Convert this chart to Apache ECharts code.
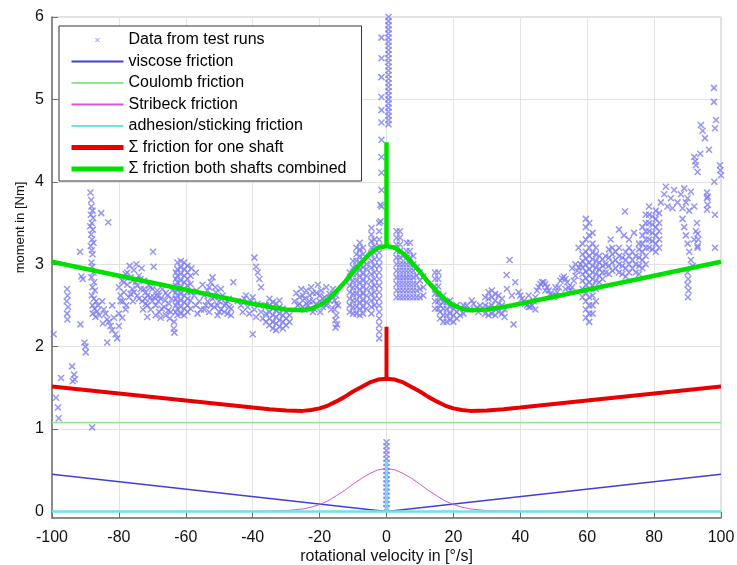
<!DOCTYPE html>
<html>
<head>
<meta charset="utf-8">
<script src="https://cdn.jsdelivr.net/npm/echarts@6/dist/echarts.min.js"></script>
<style>
  html, body { margin: 0; padding: 0; background: #fff; }
  #chart { width: 737px; height: 565px; }
</style>
</head>
<body>
<div id="chart"></div>
<script>
// measured points from the test runs, [velocity, moment]
const testRunsLeft = [
  [-99.5,2.15],[-98.8,1.38],[-98.2,1.26],[-98,1.13],[-97.3,1.62],[-95.5,2.7],[-95.3,2.62],[-95.6,2.55],
  [-95.2,2.48],[-95.5,2.4],[-95.4,2.33],[-94,1.76],[-93.4,1.66],[-93.2,1.6],[-93.8,1.58],[-91.6,3.15],
  [-91.2,2.85],[-90.8,2.82],[-91.5,2.27],[-90.3,2.05],[-90,2.0],[-89.9,1.93],[-88,1.02],
  [-88.5,3.87],[-88.3,3.78],[-88.2,3.7],[-87.9,3.65],[-88.4,3.6],[-87.7,3.56],[-88.1,3.5],[-88.6,3.46],
  [-87.8,3.42],[-88.3,3.36],[-88,3.3],[-87.6,3.26],[-88.4,3.22],[-88.1,3.17],[-87.9,3.12],[-85.3,3.62],
  [-83.2,3.51],[-88.2,3.02],
  [-88,2.97],[-87.6,2.9],[-88.2,2.84],[-87.4,2.78],[-87.9,2.72],[-87.2,2.68],[-88.1,2.62],[-87.5,2.58],
  [-86.8,2.55],[-87.9,2.5],[-87.3,2.46],[-86.5,2.43],[-87.8,2.4],[-87,2.36],[-86.2,2.5],[-85.8,2.38],
  [-85,2.55],[-84.5,2.45],[-84,2.4],[-83.5,2.33],[-83,2.3],[-82.5,2.25],[-82,2.2],[-81,2.15],
  [-80.5,2.1],[-83.5,2.05],[-80,2.25],[-80,2.4],[-82,2.5],[-79,2.35],[-78,2.45],[-81.5,2.35],
  [-84.8,2.28],[-79.5,2.55],
  [-80,2.72],[-79,2.8],[-78.5,2.66],[-78,2.88],[-77.5,2.75],[-77,2.6],[-76.5,2.84],[-76,2.7],
  [-75.5,2.93],[-75,2.78],[-74.5,2.62],[-74,2.86],[-73.5,2.7],[-73,2.55],[-72.5,2.8],[-72,2.66],
  [-71.5,2.5],[-71,2.74],[-70.5,2.6],[-76.8,2.98],[-74.8,3.0],[-73.2,2.95],[-78.8,2.55],[-77.8,2.5],
  [-75.8,2.55],[-72.8,2.45],[-69.8,3.15],[-69.6,2.97],
  [-79.5,2.62],[-78.5,2.78],[-77.5,2.9],[-76.5,2.64],[-75.5,2.66],[-74.5,2.74],[-73.5,2.82],[-72.5,2.7],
  [-71.5,2.62],[-70.5,2.72],[-76,2.8],[-74,2.58],[-72,2.52],[-70,2.55],
  [-70,2.7],[-69.5,2.6],[-69,2.5],[-68.5,2.68],[-68,2.42],[-67.5,2.58],[-67,2.7],[-66.5,2.48],
  [-66,2.38],[-65.5,2.62],[-65,2.52],[-64.5,2.42],[-64,2.68],[-69,2.38],[-70.5,2.45],[-67.5,2.35],
  [-66,2.65],[-68.2,2.55],[-64.8,2.34],[-71.5,2.36],[-72.2,2.58],
  [-68.8,2.62],[-67.2,2.46],[-66.2,2.56],[-65.2,2.44],[-64.2,2.58],[-68,2.62]
]

const testRunsMidLeft = [
  [-63,2.42],[-63,2.5],[-63,2.58],[-63,2.66],[-63,2.74],[-63,2.82],[-63,2.9],
  [-62.5,2.38],[-62.5,2.46],[-62.5,2.54],[-62.5,2.62],[-62.5,2.7],[-62.5,2.78],[-62.5,2.86],[-62.5,2.94],[-62.5,3.02],
  [-61.5,2.4],[-61.5,2.48],[-61.5,2.56],[-61.5,2.64],[-61.5,2.72],[-61.5,2.8],[-61.5,2.88],[-61.5,2.96],[-61.5,3.04],
  [-60.5,2.38],[-60.5,2.46],[-60.5,2.54],[-60.5,2.62],[-60.5,2.7],[-60.5,2.78],[-60.5,2.86],[-60.5,2.94],[-60.5,3.02],
  [-59.5,2.42],[-59.5,2.5],[-59.5,2.58],[-59.5,2.66],[-59.5,2.74],[-59.5,2.82],[-59.5,2.9],[-59.5,2.98],
  [-58.6,2.46],[-58.6,2.56],[-58.6,2.66],[-58.6,2.76],[-58.6,2.86],
  [-63.5,2.3],[-63.6,2.22],[-63.4,2.17],[-58.3,2.95],
  [-57.5,2.62],[-57,2.5],[-56.5,2.4],[-56,2.55],[-55.5,2.45],[-57,2.9],[-56.8,2.68],
  [-55,2.75],[-54.5,2.62],[-54,2.5],[-53.5,2.68],[-53,2.42],[-52.5,2.78],[-52,2.58],[-51.5,2.48],
  [-51,2.66],[-50.5,2.38],[-50,2.55],[-49.5,2.45],[-49,2.62],[-48.5,2.42],[-48,2.52],[-47.5,2.4],
  [-47,2.48],[-46.5,2.38],[-45.8,2.78],[-52,2.84],[-51.2,2.72],[-49.5,2.7],[-47.2,2.58],
  [-54.5,2.45],[-53.5,2.55],[-52.5,2.5],[-51.5,2.6],[-50.5,2.5],[-49.5,2.58],[-48.5,2.5],[-47.5,2.55],
  [-46.5,2.46],[-53,2.72],[-50,2.42],
  [-39.5,3.08],[-39,2.97],[-38.5,2.9],[-38,2.82],[-37.5,2.72],[-40,2.15],
  [-44.5,2.55],[-43.5,2.5],[-42.5,2.58],[-41.5,2.48],[-40.5,2.55],[-39.5,2.45],[-38.5,2.52],[-37.5,2.42],
  [-36.5,2.5],[-43,2.42],[-41,2.4],[-39,2.36],[-37,2.34],[-42,2.62],[-40,2.6],
  [-36,2.3],[-36,2.4],[-36,2.5],[-35,2.26],[-35,2.34],[-35,2.42],[-35,2.5],[-35,2.58],
  [-34,2.22],[-34,2.3],[-34,2.38],[-34,2.46],[-34,2.54],[-33,2.2],[-33,2.28],[-33,2.36],[-33,2.44],[-33,2.52],
  [-32,2.24],[-32,2.32],[-32,2.4],[-32,2.48],[-32,2.56],[-31,2.22],[-31,2.3],[-31,2.38],[-31,2.46],
  [-30,2.26],[-30,2.34],[-30,2.42],[-29,2.3],[-29,2.38],
  [-27.5,2.55],[-27,2.65],[-26.5,2.5],[-26,2.6],[-25.5,2.7],[-25,2.48],[-24.5,2.58],[-24,2.68],
  [-23.5,2.5],[-23,2.62],[-22.5,2.72],[-22,2.55],[-21.5,2.45],[-21,2.65],[-20.5,2.75],[-20,2.55],
  [-19.5,2.68],[-19,2.48],[-18.5,2.6],[-18,2.72],[-17.5,2.52],[-17,2.64],[-16.5,2.45],[-16,2.7],
  [-15.5,2.56],[-15,2.62],[-14.5,2.5],[-24.5,2.45],[-22,2.42],[-19.8,2.42],
  [-26,2.52],[-25,2.62],[-24,2.52],[-23,2.55],[-22,2.65],[-21,2.52],[-20,2.62],[-19,2.58],
  [-18,2.5],[-17,2.56],[-16,2.6],[-15,2.52],
  [-15.5,2.45],[-15,2.38],[-15.3,2.32],[-14.8,2.27],[-15.2,2.23]
]

const testRunsCenter = [
  [-11,2.42],[-11,2.5],[-11,2.58],[-11,2.66],[-11,2.74],[-11,2.82],[-11,2.9],
  [-10,2.4],[-10,2.48],[-10,2.56],[-10,2.64],[-10,2.72],[-10,2.8],[-10,2.88],[-10,2.96],[-10,3.04],
  [-9,2.4],[-9,2.48],[-9,2.56],[-9,2.64],[-9,2.72],[-9,2.8],[-9,2.88],[-9,2.96],[-9,3.04],[-9,3.12],[-9,3.2],
  [-8,2.38],[-8,2.46],[-8,2.54],[-8,2.62],[-8,2.7],[-8,2.78],[-8,2.86],[-8,2.94],[-8,3.02],[-8,3.1],[-8,3.18],[-8,3.26],
  [-7,2.4],[-7,2.48],[-7,2.56],[-7,2.64],[-7,2.72],[-7,2.8],[-7,2.88],[-7,2.96],[-7,3.04],[-7,3.12],[-7,3.2],
  [-6,2.46],[-6,2.54],[-6,2.62],[-6,2.7],[-6,2.78],[-6,2.86],[-6,2.94],[-6,3.0],
  [-4.5,2.4],[-4.5,2.48],[-4.5,2.56],[-4.5,2.64],[-4.5,2.72],[-4.5,2.8],[-4.5,2.88],[-4.5,2.96],
  [-4.5,3.04],[-4.5,3.12],[-4.5,3.2],[-4.5,3.28],[-4.5,3.36],[-4.5,3.44],
  [-3.6,2.5],[-3.6,2.58],[-3.6,2.66],[-3.6,2.74],[-3.6,2.82],[-3.6,2.9],[-3.6,2.98],[-3.6,3.06],[-3.6,3.14],[-3.6,3.22],[-3.6,3.3],
  [-2.2,2.1],[-2.2,2.18],[-2.2,2.26],[-2.2,2.34],[-2.2,2.42],[-2.2,2.5],[-2.2,2.58],[-2.2,2.66],[-2.2,2.74],
  [-2.2,2.82],[-2.2,2.9],[-2.2,2.98],[-2.2,3.06],[-2.2,3.14],[-2.2,3.22],[-2.2,3.3],[-2.2,3.4],[-2.2,3.5],
  [-1.8,3.72],[-1.8,3.52],
  [-1.5,5.75],[-1.5,5.5],[-1.5,5.27],[-1.5,5.03],[-1.5,4.87],[-1.5,4.72],[-1.5,4.51],[-1.5,4.3],
  [-1.5,4.11],[-1.5,3.9],[-1.5,3.7],
  [0.6,4.7],[0.6,4.75],[0.6,4.8],[0.6,4.85],[0.6,4.9],[0.6,4.95],[0.6,5.0],[0.6,5.05],[0.6,5.1],
  [0.6,5.15],[0.6,5.2],[0.6,5.25],[0.6,5.3],[0.6,5.35],[0.6,5.4],[0.6,5.45],[0.6,5.5],[0.6,5.55],
  [0.6,5.6],[0.6,5.65],[0.6,5.7],[0.6,5.75],[0.6,5.8],[0.6,5.85],[0.6,5.9],[0.6,5.95],[0.6,6.0],
  [0,0.04],[0,0.09],[0,0.14],[0,0.19],[0,0.24],[0,0.29],[0,0.34],[0,0.39],[0,0.44],[0,0.49],
  [0,0.54],[0,0.59],[0,0.64],[0,0.69],[0,0.74],[0,0.79],[0,0.84],
  [3,2.6],[3,2.68],[3,2.76],[3,2.84],[3,2.92],[3,3.0],[3,3.08],[3,3.16],[3,3.24],[3,3.32],[3,3.4],
  [4,2.6],[4,2.68],[4,2.76],[4,2.84],[4,2.92],[4,3.0],[4,3.08],[4,3.16],[4,3.24],[4,3.32],[4,3.4],
  [5,2.6],[5,2.68],[5,2.76],[5,2.84],[5,2.92],[5,3.0],[5,3.1],
  [6,2.6],[6,2.68],[6,2.76],[6,2.84],[6,2.92],[6,3.0],[6,3.08],[6,3.16],[6,3.26],
  [7,2.6],[7,2.68],[7,2.76],[7,2.84],[7,2.92],[7,3.0],[7,3.08],[7,3.16],[7,3.26],
  [8,2.6],[8,2.68],[8,2.76],[8,2.84],[8,2.92],[8,3.0],[8,3.1],
  [9,2.6],[9,2.68],[9,2.76],[9,2.86],[9,2.96],[10,2.6],[10,2.7],[10,2.8],[10,2.9],
  [11,2.62],[11,2.72],[11,2.85]
]

const testRunsRight = [
  [14.5,2.46],[14.5,2.55],[14.5,2.64],[14.5,2.73],[14.5,2.82],[14.5,2.9],
  [15.5,2.46],[15.5,2.55],[15.5,2.64],[15.5,2.73],[15.5,2.82],[15.5,2.9],
  [16,2.34],[16,2.42],[16,2.5],[16,2.58],[17,2.3],[17,2.38],[17,2.46],[17,2.54],[17,2.62],
  [18,2.3],[18,2.38],[18,2.46],[18,2.54],[19,2.32],[19,2.4],[19,2.48],[19,2.56],
  [20,2.3],[20,2.38],[20,2.46],[21,2.34],[21,2.42],[21,2.5],[22,2.38],[22,2.46],[23,2.4],[23,2.5],
  [24,2.5],[25,2.45],[26,2.52],[27,2.47],[28,2.5],[25.5,2.56],[27.5,2.42],
  [29.5,2.4],[29.5,2.5],[29.5,2.6],[30.5,2.38],[30.5,2.48],[30.5,2.58],[30.5,2.66],
  [31.5,2.4],[31.5,2.5],[31.5,2.6],[31.5,2.68],[32.5,2.38],[32.5,2.46],[32.5,2.56],[32.5,2.64],
  [33.5,2.42],[33.5,2.52],[33.5,2.62],[34.5,2.4],[34.5,2.5],[34.5,2.58],[35.3,2.36],[35.3,2.45],
  [36.8,3.05],[35.9,2.87],[38,2.27],[36,2.7],[37.5,2.62],[38.5,2.78],[39.5,2.66],
  [40,2.62],[41,2.55],[42,2.5],[43,2.48],[44,2.55],[45,2.68],[46,2.76],[47,2.78],
  [48,2.72],[49,2.64],[50,2.6],[51,2.66],[52,2.8],[53,2.85],[54,2.78],[55,2.68],
  [56,2.8],[57,2.92],[58,3.0],[55.5,2.95],[56.5,3.0],[57.4,3.2],[42.5,2.62],[44.5,2.45],
  [47.5,2.68],[50.5,2.72],[53.5,2.7],
  [40.5,2.58],[41.5,2.52],[42.5,2.48],[43.5,2.5],[44.5,2.6],[45.5,2.72],[46.5,2.78],[47.5,2.76],
  [48.5,2.68],[49.5,2.62],[50.5,2.62],[51.5,2.72],[52.5,2.83],[53.5,2.82],[54.5,2.72],[55.5,2.72],
  [56.5,2.86],[57.5,2.96],
  [58.6,2.6],[58.6,2.7],[58.6,2.8],[58.6,2.88],[58.6,2.96],[58.6,3.04],[58.6,3.12],[58.6,3.25],
  [59.6,2.35],[59.6,2.45],[59.6,2.55],[59.6,2.65],[59.6,2.75],[59.6,2.83],[59.6,2.91],[59.6,2.99],
  [59.6,3.07],[59.6,3.15],[59.6,3.3],[59.6,3.45],[59.6,3.55],
  [60.6,2.3],[60.6,2.4],[60.6,2.5],[60.6,2.6],[60.6,2.7],[60.6,2.78],[60.6,2.86],[60.6,2.94],
  [60.6,3.02],[60.6,3.1],[60.6,3.2],[60.6,3.35],[60.6,3.5],
  [61.6,2.4],[61.6,2.5],[61.6,2.62],[61.6,2.74],[61.6,2.82],[61.6,2.9],[61.6,2.98],[61.6,3.06],
  [61.6,3.14],[61.6,3.25],[61.6,3.38],
  [62.6,2.55],[62.6,2.7],[62.6,2.8],[62.6,2.88],[62.6,2.96],[62.6,3.04],[62.6,3.12],[62.6,3.2],
  [63.6,2.78],[63.6,2.86],[63.6,2.94],[63.6,3.02],[63.6,3.1],[64.6,2.82],[64.6,2.9],[64.6,2.98],[64.6,3.06],
  [65.5,2.9],[65.5,3.0],[65.5,3.1],[66.5,2.88],[66.5,2.98],[66.5,3.08],[66.5,3.18],
  [67.5,2.92],[67.5,3.02],[67.5,3.12],[67.5,3.2],[68.5,2.95],[68.5,3.05],[68.5,3.15],
  [69.5,2.9],[69.5,3.0],[69.5,3.1],[69.5,3.2],[70.5,2.88],[70.5,2.98],[70.5,3.08],
  [71.5,2.85],[71.5,2.95],[71.5,3.05],[71.5,3.15],[72.5,2.9],[72.5,3.0],[72.5,3.1],[72.5,3.2],
  [73.5,2.95],[73.5,3.05],[73.5,3.15],[74.5,2.9],[74.5,3.0],[74.5,3.1],
  [75.5,2.88],[75.5,2.98],[75.5,3.08],[75.5,3.18],[76.5,2.95],[76.5,3.05],[76.5,3.15],
  [77.5,3.0],[77.5,3.1],[77.5,3.2],
  [69.5,3.42],[71,3.35],[72.5,3.3],[74,3.38],[75.5,3.25],[71.3,3.64],[67,3.3],
  [76.5,3.25],[76.5,3.35],[76.5,3.45],[77.5,3.3],[77.5,3.4],[77.5,3.5],[77.5,3.6],
  [78.5,3.2],[78.5,3.3],[78.5,3.4],[78.5,3.5],[78.5,3.6],[78.5,3.7],
  [79.5,3.18],[79.5,3.28],[79.5,3.38],[79.5,3.48],[79.5,3.58],
  [80.5,3.15],[80.5,3.25],[80.5,3.35],[80.5,3.45],[80.5,3.55],[80.5,3.65],
  [81.5,3.2],[81.5,3.3],[81.5,3.4],[81.5,3.5],[81.5,3.62],
  [82,3.75],[83,3.85],[84,3.7],[85,3.8],[86,3.9],[87,3.75],[83.5,3.94],[85.5,3.68],
  [88,3.85],[89,3.92],[90,3.8],[91,3.88],[92,3.7],[88.5,3.68],[90.5,3.65],[89.5,3.75],
  [88.5,3.55],[89,3.45],[89.5,3.35],[90,3.25],[90.5,3.15],[91,3.05],[91.5,2.98],[92,3.3],
  [92.5,3.4],[93,3.2],[92.8,3.5],
  [90,2.9],[90.2,2.82],[90,2.75],[90.3,2.68],[90.1,2.6],
  [93,3.22],[93.2,3.3],[93,3.37],[95.8,3.87],[95.8,3.8],[96,3.72],[95.8,3.66],
  [98.2,3.6],[98.2,3.2],[92,4.3],[92.5,4.2],[93,4.12],[92.3,4.25],[94,4.69],[94.5,4.62],
  [95.2,4.53],[96.4,4.39],[93.8,4.34],[97.9,5.14],[97.9,4.97],[98.5,4.75],[98.2,4.65],
  [99.7,4.2],[99.8,4.14],[100,4.08],[98,4.0],[96,3.82]
]

// friction model curves
const curveX = [-100,-80,-60,-40,-35,-30,-25,-22.5,-20,-17.5,-15,-12.5,-10,-7.5,-5,-2.5,0,
  2.5,5,7.5,10,12.5,15,17.5,20,22.5,25,30,35,40,60,80,100]
const stribeckY = [0,0,0,0.002,0.004,0.009,0.03,0.052,0.083,0.128,0.19,0.255,0.33,0.4,0.46,0.505,0.52,
  0.505,0.46,0.4,0.33,0.255,0.19,0.128,0.083,0.052,0.03,0.009,0.004,0.002,0,0,0]
const oneShaftY = [1.515,1.43,1.345,1.26,1.24,1.225,1.22,1.23,1.25,1.285,1.335,1.39,1.455,1.51,1.565,1.6,1.61,
  1.6,1.565,1.51,1.455,1.39,1.335,1.285,1.25,1.23,1.22,1.225,1.24,1.26,1.345,1.43,1.515]
const combinedY = [3.03,2.86,2.69,2.52,2.48,2.45,2.44,2.46,2.5,2.57,2.67,2.78,2.91,3.02,3.13,3.2,3.22,
  3.2,3.13,3.02,2.91,2.78,2.67,2.57,2.5,2.46,2.44,2.45,2.48,2.52,2.69,2.86,3.03]
const viscoseX = [-100, 0, 100]
const viscoseY = [0.45, 0, 0.45]
const coulombX = [-100, 100]
const coulombY = [1.08, 1.08]
const adhesionX = [-100, 0, 0, 0, 100]
const adhesionY = [0, 0, 0.62, 0, 0]
// static peak at standstill
const oneShaftSpike = 2.24
const combinedSpike = 4.48

const xTicks = [-100, -80, -60, -40, -20, 0, 20, 40, 60, 80, 100]
const yTicks = [0, 1, 2, 3, 4, 5, 6]

const FONT = 'Liberation Sans, Arial, sans-serif'
const CROSS = 'path://M0,0L10,10M10,0L0,10'

const zip = (xs, ys) => xs.map((x, i) => [x, ys[i]])

// put the vertical static-friction spike in at v = 0
const withSpike = (ys, spike) => {
  const pts = zip(curveX, ys)
  const i = curveX.indexOf(0)
  pts.splice(i + 1, 0, [0, spike], [0, ys[i]])
  return pts
}

const lineSeries = (name, data, color, width) => ({
  name: name,
  type: 'line',
  data: data,
  symbol: 'none',
  silent: true,
  lineStyle: { color: color, width: width },
  itemStyle: { color: color },
})

const chart = echarts.init(document.getElementById('chart'), null, { renderer: 'canvas' })

chart.setOption({
  animation: false,
  backgroundColor: '#fff',
  textStyle: { fontFamily: FONT },
  grid: {
    left: 52, right: 16, top: 17, bottom: 47,
    outerBoundsMode: 'none',
    show: true, borderColor: '#c4c4c4', borderWidth: 1,
  },
  legend: {
    left: 59, top: 26,
    orient: 'vertical',
    backgroundColor: '#fff',
    borderColor: '#333',
    borderWidth: 1,
    padding: [6, 15, 4, 10],
    itemGap: 5.5,
    itemWidth: 52,
    itemHeight: 14,
    // only the line part of the icons, no dot
    itemStyle: { opacity: 0 },
    textStyle: { fontSize: 16, color: '#000', fontFamily: FONT },
    data: [
      {
        name: 'Data from test runs',
        icon: 'path://M0,0M52,14M24,5L28,9M28,5L24,9',
        itemStyle: { opacity: 1, color: 'transparent', borderColor: '#8a8af0', borderWidth: 1 },
      },
      'viscose friction',
      'Coulomb friction',
      'Stribeck friction',
      'adhesion/sticking friction',
      { name: 'Σ friction for one shaft', lineStyle: { width: 5 } },
      { name: 'Σ friction both shafts combined', lineStyle: { width: 5 } },
    ],
  },
  xAxis: {
    type: 'value',
    min: -100, max: 100, interval: 20,
    name: 'rotational velocity in [°/s]',
    nameLocation: 'middle',
    nameGap: 31,
    nameMoveOverlap: false,
    nameTextStyle: { fontSize: 16, color: '#111' },
    axisLine: { show: true, onZero: false, lineStyle: { color: '#6e6e6e', width: 1.5 } },
    axisTick: { show: true, inside: true, length: 6, lineStyle: { color: '#6e6e6e' } },
    axisLabel: { fontSize: 16, color: '#111', margin: 12, customValues: xTicks },
    splitLine: { show: true, lineStyle: { color: '#e2e2e2', width: 1 } },
  },
  yAxis: {
    type: 'value',
    min: -0.08, max: 6,
    name: 'moment in [Nm]',
    nameLocation: 'middle',
    nameGap: 25,
    nameMoveOverlap: false,
    // label sits a bit above the middle of the axis
    nameTextStyle: { fontSize: 13, color: '#111', padding: [0, 0, 0, 80] },
    axisLine: { show: true, onZero: false, lineStyle: { color: '#6e6e6e', width: 1.5 } },
    axisTick: { show: true, inside: true, length: 6, customValues: yTicks, lineStyle: { color: '#6e6e6e' } },
    axisLabel: { fontSize: 16, color: '#111', margin: 8, customValues: yTicks },
    splitLine: { show: true, lineStyle: { color: '#e2e2e2', width: 1 } },
  },
  series: [
    {
      name: 'Data from test runs',
      type: 'scatter',
      silent: true,
      symbol: CROSS,
      symbolSize: 6,
      data: testRunsLeft.concat(testRunsMidLeft, testRunsCenter, testRunsRight),
      itemStyle: { color: 'transparent', borderColor: '#7c7cf0', borderWidth: 1.5 },
    },
    lineSeries('viscose friction', zip(viscoseX, viscoseY), '#4040cc', 1.5),
    lineSeries('Coulomb friction', zip(coulombX, coulombY), '#8ee88e', 1.5),
    lineSeries('Stribeck friction', zip(curveX, stribeckY), '#d655d6', 1),
    lineSeries('adhesion/sticking friction', zip(adhesionX, adhesionY), '#6fe2ea', 2.5),
    lineSeries('Σ friction for one shaft', withSpike(oneShaftY, oneShaftSpike), '#e60000', 4),
    lineSeries('Σ friction both shafts combined', withSpike(combinedY, combinedSpike), '#00e000', 4.5),
  ],
})
</script>
</body>
</html>
